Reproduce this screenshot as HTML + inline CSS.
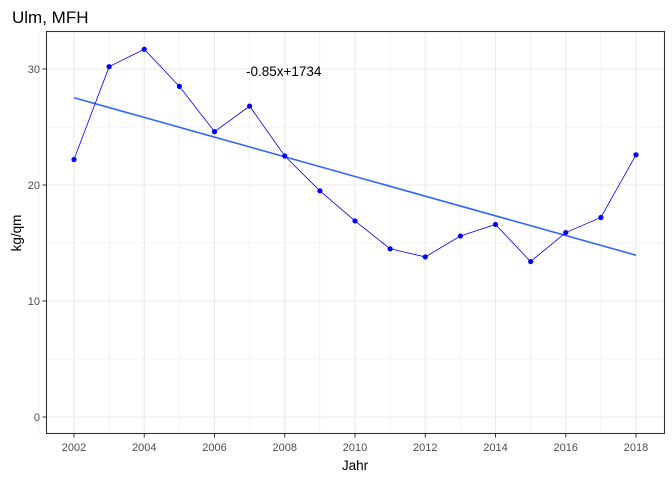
<!DOCTYPE html>
<html><head><meta charset="utf-8"><style>
body{margin:0;background:#fff;}
text{font-family:"Liberation Sans",Arial,sans-serif;}
</style></head><body>
<svg id="chart" width="672" height="480" xmlns="http://www.w3.org/2000/svg">
<text x="12" y="23" font-size="17" fill="#000">Ulm, MFH</text>
<g id="grid"></g>
<g id="marks"></g>
<rect x="46.5" y="31.5" width="618" height="402" fill="none" stroke="#333" stroke-width="1.1"/>
<g id="axes"></g>
<text x="246" y="76" font-size="13.5" fill="#000">-0.85x+1734</text>
<text x="355" y="470" font-size="13.5" text-anchor="middle">Jahr</text>
<text x="21" y="233" font-size="13.5" text-anchor="middle" transform="rotate(-90 21 233)">kg/qm</text>
</svg>
<script>
const years=[2002,2003,2004,2005,2006,2007,2008,2009,2010,2011,2012,2013,2014,2015,2016,2017,2018];
const values=[22.2,30.2,31.7,28.5,24.6,26.8,22.5,19.5,16.9,14.5,13.8,15.6,16.6,13.4,15.9,17.2,22.6];
const xTicks=[2002,2004,2006,2008,2010,2012,2014,2016,2018];
const yTicks=[0,10,20,30];
const NS="http://www.w3.org/2000/svg";
const X=v=>74+(v-2002)*35.125;
const Y=v=>417-v*11.6;
function mk(t,a,p){const e=document.createElementNS(NS,t);for(const k in a)e.setAttribute(k,a[k]);p.appendChild(e);return e;}
const grid=document.getElementById('grid'),marks=document.getElementById('marks'),axes=document.getElementById('axes');
for(let v=2001;v<=2019;v++){const l=mk('line',{x1:X(v),x2:X(v),y1:31.5,y2:433.5,stroke:'#ebebeb','stroke-width':v%2?0.6:1.1},grid);

}
for(let v=-5;v<=35;v+=5){const y=Y(v);if(y<31.5||y>433.5)continue;const l=mk('line',{x1:46.5,x2:664.5,y1:y,y2:y,stroke:'#ebebeb','stroke-width':v%10?0.6:1.1},grid);

}
xTicks.forEach(v=>{mk('line',{x1:X(v),x2:X(v),y1:433.5,y2:437.5,stroke:'#333'},axes);
const t=mk('text',{x:X(v),y:451,'font-size':11,'text-anchor':'middle',fill:'#4d4d4d'},axes);t.textContent=v;

});
yTicks.forEach(v=>{mk('line',{x1:42.5,x2:46.5,y1:Y(v),y2:Y(v),stroke:'#333'},axes);
const t=mk('text',{x:40,y:Y(v)+4,'font-size':11,'text-anchor':'end',fill:'#4d4d4d'},axes);t.textContent=v;

});
// regression
const n=years.length,mx=years.reduce((a,b)=>a+b)/n,my=values.reduce((a,b)=>a+b)/n;
let sxy=0,sxx=0;years.forEach((x,i)=>{sxy+=(x-mx)*(values[i]-my);sxx+=(x-mx)**2;});
const b=sxy/sxx,a=my-b*mx;
const rl=mk('line',{x1:X(years[0]),y1:Y(a+b*years[0]),x2:X(years[n-1]),y2:Y(a+b*years[n-1]),stroke:'#3366FF','stroke-width':1.6},marks);


const pl=mk('polyline',{points:years.map((x,i)=>X(x)+','+Y(values[i])).join(' '),fill:'none',stroke:'#0000FF','stroke-width':0.8},marks);


years.forEach((x,i)=>{const c=mk('circle',{cx:X(x),cy:Y(values[i]),r:2.6,fill:'#0000FF'},marks);

});
</script>
</body></html>
